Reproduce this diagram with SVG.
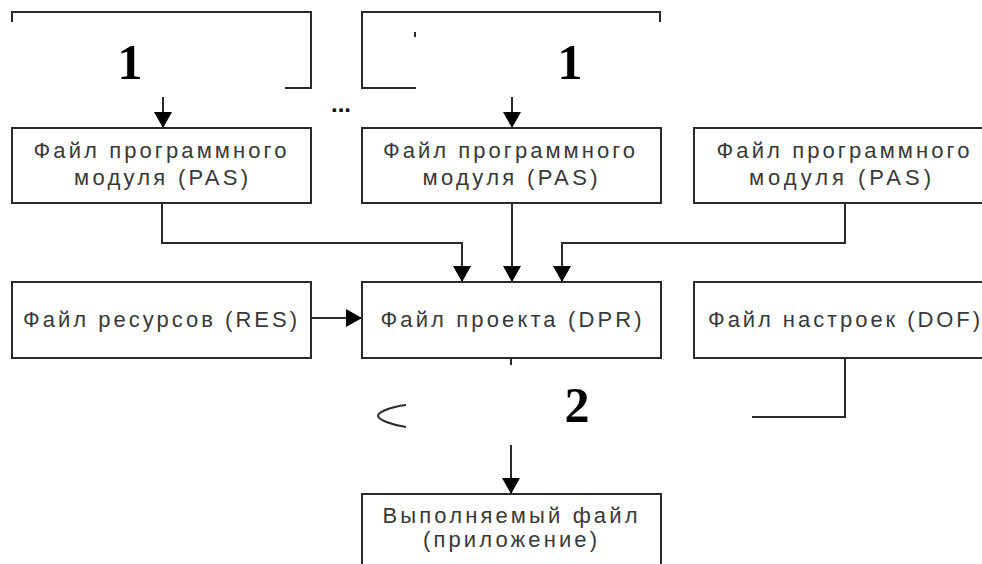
<svg xmlns="http://www.w3.org/2000/svg" width="982" height="564" viewBox="0 0 982 564">
<defs>
<style>
.box{fill:#fff;stroke:#2a2a2a;stroke-width:2}
.ln{fill:none;stroke:#2a2a2a;stroke-width:2}
.t{font-family:"Liberation Sans",Arial,sans-serif;font-size:22px;fill:#383838;text-anchor:middle}
.big{font-family:"Liberation Serif","Times New Roman",serif;font-size:50px;font-weight:bold;fill:#000;text-anchor:middle}
</style>
<marker id="ah" viewBox="0 0 16 18" refX="16" refY="9" markerWidth="16" markerHeight="18" markerUnits="userSpaceOnUse" orient="auto">
<path d="M0,0 L16,9 L0,18 Z" fill="#000"/>
</marker>
</defs>
<rect width="982" height="564" fill="#fff"/>

<g id="bracket1">
<path class="ln" d="M12,22 V12 H311 V88 H285"/>
<text class="big" x="130" y="79">1</text>
</g>
<g id="bracket2">
<path class="ln" d="M416,88 H362 V12 H660 V22"/>
<line class="ln" x1="415" y1="32" x2="415" y2="37" stroke-width="1.5"/>
<text class="big" x="570" y="79">1</text>
</g>
<text id="dots" x="341" y="112" style="font-family:'Liberation Sans',Arial,sans-serif;font-size:24px;font-weight:bold;fill:#111;text-anchor:middle">...</text>

<g id="connectors">
<line class="ln" x1="163" y1="97" x2="163" y2="128" marker-end="url(#ah)"/>
<line class="ln" x1="512" y1="97" x2="512" y2="128" marker-end="url(#ah)"/>
<path class="ln" d="M162,203 V243 H462 V282" marker-end="url(#ah)"/>
<line class="ln" x1="512" y1="203" x2="512" y2="282" marker-end="url(#ah)"/>
<path class="ln" d="M845,203 V243 H562 V282" marker-end="url(#ah)"/>
<line class="ln" x1="311" y1="318" x2="362" y2="318" marker-end="url(#ah)"/>
<line class="ln" x1="511" y1="358" x2="511" y2="365"/>
<path class="ln" d="M845,358 V417 H752"/>
<line class="ln" x1="511" y1="445" x2="511" y2="494" marker-end="url(#ah)"/>
<path class="ln" d="M406,405 C390,407 378,412 378,416 C379,420 392,425 406,427" stroke-width="1.8"/>
</g>

<g id="pas1">
<rect class="box" x="12" y="128" width="299" height="75"/>
<text class="t" x="160" y="158" textLength="253" lengthAdjust="spacing">Файл программного</text>
<text class="t" x="161" y="185" textLength="174" lengthAdjust="spacing">модуля (PAS)</text>
</g>
<g id="pas2">
<rect class="box" x="362" y="128" width="299" height="75"/>
<text class="t" x="509" y="158" textLength="252" lengthAdjust="spacing">Файл программного</text>
<text class="t" x="510" y="185" textLength="175" lengthAdjust="spacing">модуля (PAS)</text>
</g>
<g id="pas3">
<rect class="box" x="694" y="128" width="299" height="75"/>
<text class="t" x="843" y="158" textLength="253" lengthAdjust="spacing">Файл программного</text>
<text class="t" x="840" y="185" textLength="182" lengthAdjust="spacing">модуля (PAS)</text>
</g>
<g id="res">
<rect class="box" x="12" y="282" width="299" height="76"/>
<text class="t" x="160" y="327" textLength="274" lengthAdjust="spacing">Файл ресурсов (RES)</text>
</g>
<g id="dpr">
<rect class="box" x="362" y="282" width="299" height="76"/>
<text class="t" x="511" y="327" textLength="261" lengthAdjust="spacing">Файл проекта (DPR)</text>
</g>
<g id="dof">
<rect class="box" x="694" y="282" width="299" height="76"/>
<text class="t" x="844" y="327" textLength="272" lengthAdjust="spacing">Файл настроек (DOF)</text>
</g>
<text class="big" x="577" y="422">2</text>
<g id="exe">
<rect class="box" x="362" y="494" width="299" height="80"/>
<text class="t" x="510" y="523" textLength="255" lengthAdjust="spacing">Выполняемый файл</text>
<text class="t" x="510" y="547" textLength="174" lengthAdjust="spacing">(приложение)</text>
</g>
</svg>
